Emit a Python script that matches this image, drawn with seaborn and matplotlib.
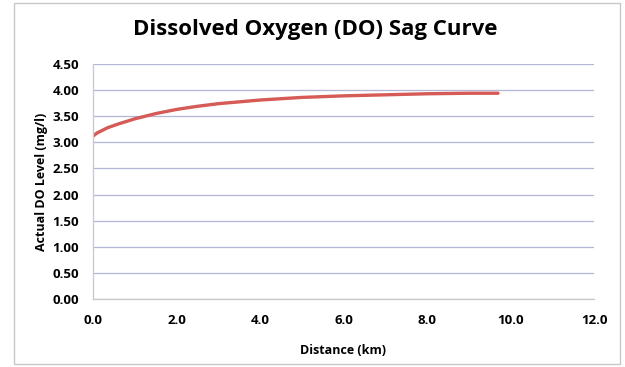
import matplotlib
matplotlib.use("Agg")
import matplotlib.pyplot as plt
from matplotlib.patches import Rectangle
import seaborn as sns
import pandas as pd

# Distance downstream (km) and dissolved oxygen level (mg/l)
distance_km = [0.0, 0.05, 0.1, 0.2, 0.35, 0.6, 1.0, 1.5, 2.0, 2.5, 3.0, 4.0, 5.0, 6.0, 7.0, 8.0, 9.0, 9.7]
do_level = [3.12, 3.15, 3.18, 3.22, 3.28, 3.35, 3.45, 3.55, 3.63, 3.69, 3.74, 3.81, 3.86, 3.89, 3.91, 3.93, 3.94, 3.94]

x_ticks = [0, 2, 4, 6, 8, 10, 12]
x_tick_labels = ["0.0", "2.0", "4.0", "6.0", "8.0", "10.0", "12.0"]
y_ticks = [0.0, 0.5, 1.0, 1.5, 2.0, 2.5, 3.0, 3.5, 4.0, 4.5]
y_tick_labels = ["0.00", "0.50", "1.00", "1.50", "2.00", "2.50", "3.00", "3.50", "4.00", "4.50"]

title = "Dissolved Oxygen (DO) Sag Curve"
x_label = "Distance (km)"
y_label = "Actual DO Level (mg/l)"

sns.set_theme(style="white")
plt.rcParams["font.family"] = ["Open Sans", "DejaVu Sans"]

df = pd.DataFrame({"distance": distance_km, "do": do_level})

fig = plt.figure(figsize=(6.25, 3.67), dpi=100)
fig.patch.set_facecolor("white")

# thin frame around the chart area
fig.add_artist(Rectangle((14 / 625, 3 / 367), 606 / 625, 361 / 367,
                         transform=fig.transFigure, fill=False,
                         edgecolor="#c8c8c8", linewidth=1.0))

ax = fig.add_axes([93 / 625, 1 - 299 / 367, (594 - 93) / 625, (299 - 64) / 367])

sns.lineplot(data=df, x="distance", y="do", ax=ax, color="#d65a55",
             linewidth=2.4, legend=False)

ax.set_xlim(0, 12)
ax.set_ylim(0, 4.5)
ax.set_xticks(x_ticks)
ax.set_xticklabels(x_tick_labels)
ax.set_yticks(y_ticks)
ax.set_yticklabels(y_tick_labels)

for lab in ax.get_xticklabels() + ax.get_yticklabels():
    lab.set_fontweight("bold")
    lab.set_fontsize(9.5)
    lab.set_color("black")

ax.tick_params(axis="x", pad=11, length=0)
ax.tick_params(axis="y", pad=10, length=0)

ax.grid(axis="y", color="#b4b6d6", linewidth=0.9)
ax.set_axisbelow(True)

for side in ["top", "right"]:
    ax.spines[side].set_visible(False)
ax.spines["left"].set_color("#c4c6de")
ax.spines["bottom"].set_color("#c8c8c8")
ax.spines["left"].set_linewidth(0.9)
ax.spines["bottom"].set_linewidth(0.9)

ax.set_xlabel(x_label, fontweight="bold", fontsize=9, labelpad=12, color="black")
ax.set_ylabel(y_label, fontweight="bold", fontsize=9, labelpad=3, color="black")

fig.text(315 / 625, 1 - 29 / 367, title, ha="center", va="center",
         fontsize=16, fontweight="bold", color="black")

fig.savefig("out.png", dpi=100, facecolor="white")
